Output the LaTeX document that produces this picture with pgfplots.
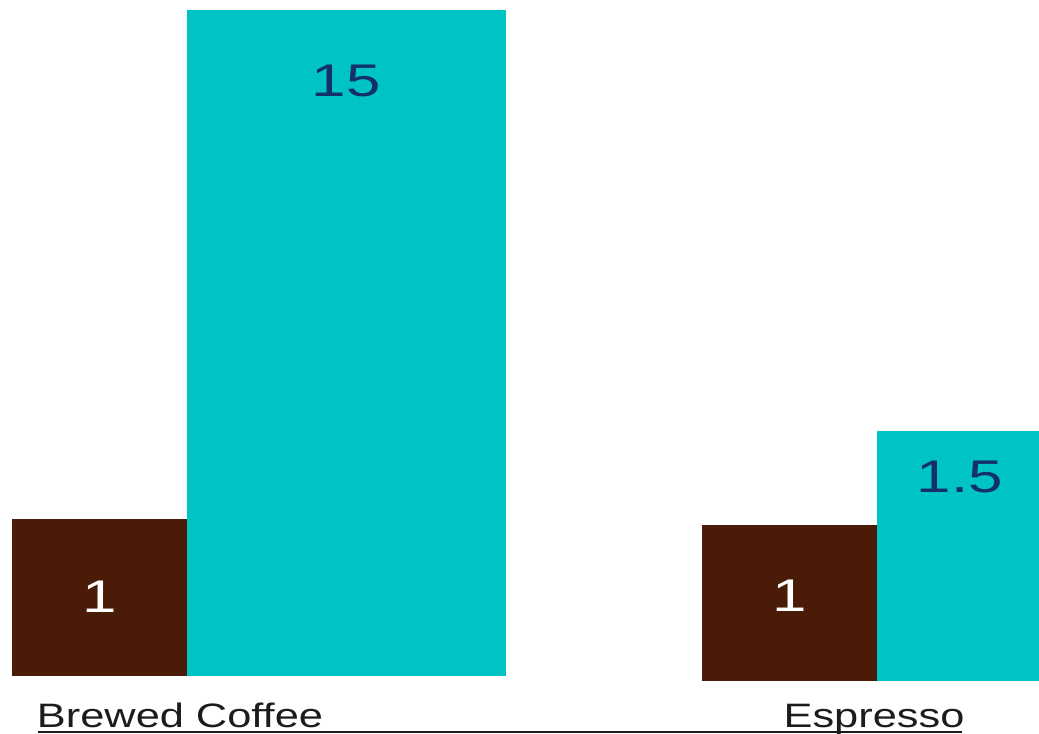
\documentclass[border=0pt]{standalone}
\usepackage{fontspec}
\setmainfont{Liberation Sans}
\usepackage{graphicx}
\usepackage{pgfplots}
\pgfplotsset{compat=1.18}
\definecolor{brew}{HTML}{4A1C08}
\definecolor{aqua}{HTML}{00C3C4}
\definecolor{navy}{HTML}{13306B}
\definecolor{labk}{HTML}{1C1C1C}
\begin{document}
\begin{tikzpicture}
\path[use as bounding box] (0,0) rectangle (1039bp,734bp);
% Brewed Coffee
\begin{axis}[
  scale only axis, enlargelimits=false, clip=true,
  ymode=log, log origin=infty,
  axis line style={draw=none}, tick style={draw=none},
  ytick=\empty,
  xticklabel style={anchor=base, font=\fontsize{34}{40}\selectfont, text=labk, yshift=-51bp},
  point meta=explicit symbolic,
  nodes near coords={\scalebox{1.35}[1]{\pgfplotspointmeta}},
  every node near coord/.append style={anchor=center, font=\fontsize{46}{50}\selectfont},
  at={(0bp,58bp)}, anchor=south west,
  width=520bp, height=676bp,
  xmin=0, xmax=520, ymin=0.4337, ymax=15.82,
  xtick={180}, xticklabels={\scalebox{1.28}[1]{Brewed Coffee}},
]
\addplot[ybar, bar width=174.5, bar shift=0pt, fill=brew, draw=none,
  every node near coord/.append style={text=white, yshift=-78bp}]
  coordinates {(99.25,1) [1]};
\addplot[ybar, bar width=319.5, bar shift=0pt, fill=aqua, draw=none,
  every node near coord/.append style={text=navy, yshift=-71bp}]
  coordinates {(346.25,15) [15]};
\end{axis}
% Espresso
\begin{axis}[
  scale only axis, enlargelimits=false, clip=true,
  ymode=log, log origin=infty,
  axis line style={draw=none}, tick style={draw=none},
  ytick=\empty,
  xticklabel style={anchor=base, font=\fontsize{34}{40}\selectfont, text=labk, yshift=-46bp},
  point meta=explicit symbolic,
  nodes near coords={\scalebox{1.35}[1]{\pgfplotspointmeta}},
  every node near coord/.append style={anchor=center, font=\fontsize{46}{50}\selectfont},
  at={(680bp,53bp)}, anchor=south west,
  width=359bp, height=681bp,
  xmin=680, xmax=1039, ymin=0.5102, ymax=9.627,
  xtick={874}, xticklabels={\scalebox{1.28}[1]{Espresso}},
]
\addplot[ybar, bar width=174.5, bar shift=0pt, fill=brew, draw=none,
  every node near coord/.append style={text=white, yshift=-71bp}]
  coordinates {(789.25,1) [1]};
\addplot[ybar, bar width=166.5, bar shift=0pt, fill=aqua, draw=none,
  every node near coord/.append style={text=navy, yshift=-46bp}]
  coordinates {(959.75,1.5) [1.5]};
\end{axis}
\draw[line width=1.6bp, labk] (38bp,2bp) -- (962bp,2bp);
\end{tikzpicture}
\end{document}
